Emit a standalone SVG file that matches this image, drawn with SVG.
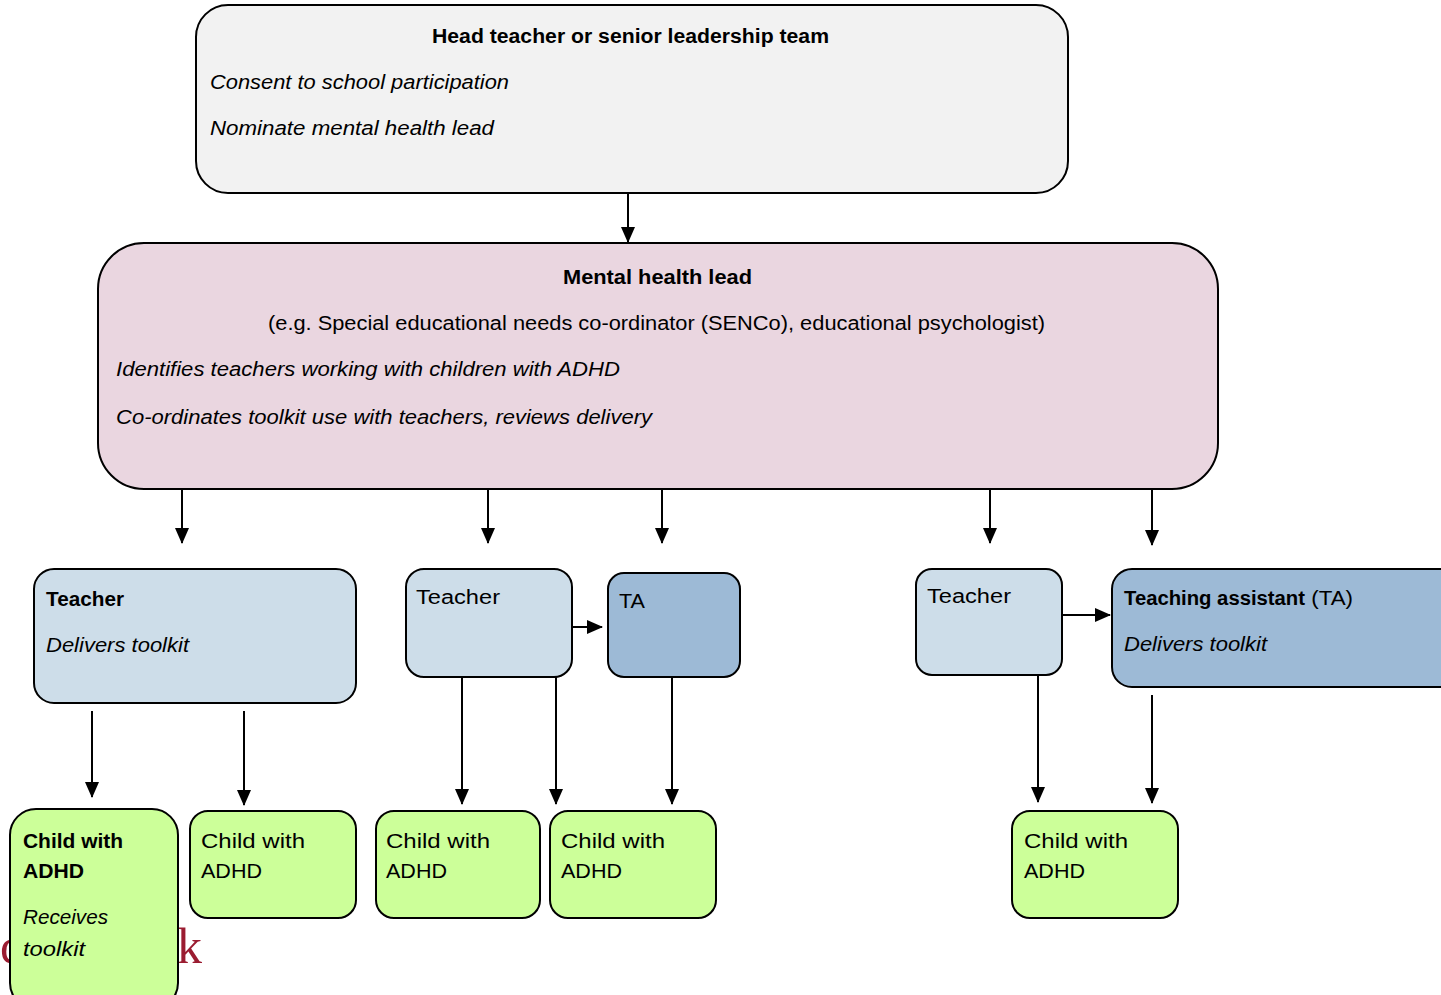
<svg xmlns="http://www.w3.org/2000/svg" width="1441" height="995" viewBox="0 0 1441 995">
<style>
text{font-family:"Liberation Sans",Arial,sans-serif;font-size:20px;fill:#000}
.b{font-weight:bold}
.i{font-style:italic}
.bg{font-family:"Liberation Serif",serif;font-size:50px;fill:#9b1c31}
.box{stroke:#000;stroke-width:2}
.head{fill:#f2f2f2}
.mhl{fill:#ead6e0}
.tch{fill:#cddde9}
.ta{fill:#9dbad6}
.ch{fill:#ccff99}
.con{stroke:#000;stroke-width:2;fill:none;marker-end:url(#ah)}
</style>
<defs>
<marker id="ah" markerUnits="userSpaceOnUse" markerWidth="16" markerHeight="16" refX="15" refY="8" orient="auto">
<path d="M0,1 L16,8 L0,15 Z" fill="#000"/>
</marker>
</defs>
<text class="bg" x="0" y="963">c</text>
<text class="bg" x="177" y="963">k</text>
<g id="connectors">
<line class="con" x1="628" y1="193" x2="628" y2="242"/>
<line class="con" x1="182" y1="489" x2="182" y2="543"/>
<line class="con" x1="488" y1="489" x2="488" y2="543"/>
<line class="con" x1="662" y1="489" x2="662" y2="543"/>
<line class="con" x1="990" y1="489" x2="990" y2="543"/>
<line class="con" x1="1152" y1="489" x2="1152" y2="545"/>
<line class="con" x1="572" y1="627" x2="602" y2="627"/>
<line class="con" x1="1062" y1="615" x2="1110" y2="615"/>
<line class="con" x1="92" y1="711" x2="92" y2="797"/>
<line class="con" x1="244" y1="711" x2="244" y2="805"/>
<line class="con" x1="462" y1="677" x2="462" y2="804"/>
<line class="con" x1="556" y1="677" x2="556" y2="804"/>
<line class="con" x1="672" y1="677" x2="672" y2="804"/>
<line class="con" x1="1038" y1="675" x2="1038" y2="802"/>
<line class="con" x1="1152" y1="695" x2="1152" y2="803"/>
</g>
<g id="head">
<rect class="box head" x="196" y="5" width="872" height="188" rx="32"/>
<text class="b" x="432" y="43" textLength="397" lengthAdjust="spacingAndGlyphs">Head teacher or senior leadership team</text>
<text class="i" x="210" y="89" textLength="299" lengthAdjust="spacingAndGlyphs">Consent to school participation</text>
<text class="i" x="210" y="135" textLength="284" lengthAdjust="spacingAndGlyphs">Nominate mental health lead</text>
</g>
<g id="mhl">
<rect class="box mhl" x="98" y="243" width="1120" height="246" rx="46"/>
<text class="b" x="563" y="284" textLength="189" lengthAdjust="spacingAndGlyphs">Mental health lead</text>
<text x="268" y="330" textLength="777" lengthAdjust="spacingAndGlyphs">(e.g. Special educational needs co-ordinator (SENCo), educational psychologist)</text>
<text class="i" x="116" y="376" textLength="504" lengthAdjust="spacingAndGlyphs">Identifies teachers working with children with ADHD</text>
<text class="i" x="116" y="424" textLength="536" lengthAdjust="spacingAndGlyphs">Co-ordinates toolkit use with teachers, reviews delivery</text>
</g>
<g id="teacher1">
<rect class="box tch" x="34" y="569" width="322" height="134" rx="20"/>
<text class="b" x="46" y="606" textLength="78" lengthAdjust="spacingAndGlyphs">Teacher</text>
<text class="i" x="46" y="652" textLength="143" lengthAdjust="spacingAndGlyphs">Delivers toolkit</text>
</g>
<g id="teacher2">
<rect class="box tch" x="406" y="569" width="166" height="108" rx="18"/>
<text x="416" y="604" textLength="84" lengthAdjust="spacingAndGlyphs">Teacher</text>
</g>
<g id="ta1">
<rect class="box ta" x="608" y="573" width="132" height="104" rx="16"/>
<text x="619" y="608" textLength="26" lengthAdjust="spacingAndGlyphs">TA</text>
</g>
<g id="teacher3">
<rect class="box tch" x="916" y="569" width="146" height="106" rx="16"/>
<text x="927" y="603" textLength="84" lengthAdjust="spacingAndGlyphs">Teacher</text>
</g>
<g id="ta2">
<rect class="box ta" x="1112" y="569" width="350" height="118" rx="20"/>
<text x="1124" y="605"><tspan class="b" textLength="181" lengthAdjust="spacingAndGlyphs">Teaching assistant</tspan><tspan x="1305" textLength="48" lengthAdjust="spacingAndGlyphs"> (TA)</tspan></text>
<text class="i" x="1124" y="651" textLength="143" lengthAdjust="spacingAndGlyphs">Delivers toolkit</text>
</g>
<g id="child1">
<rect class="box ch" x="10" y="809" width="168" height="200" rx="26"/>
<text class="b" x="23" y="848" textLength="100" lengthAdjust="spacingAndGlyphs">Child with</text>
<text class="b" x="23" y="878" textLength="61" lengthAdjust="spacingAndGlyphs">ADHD</text>
<text class="i" x="23" y="924" textLength="85" lengthAdjust="spacingAndGlyphs">Receives</text>
<text class="i" x="23" y="956" textLength="62" lengthAdjust="spacingAndGlyphs">toolkit</text>
</g>
<g id="child2">
<rect class="box ch" x="190" y="811" width="166" height="107" rx="18"/>
<text x="201" y="848" textLength="104" lengthAdjust="spacingAndGlyphs">Child with</text>
<text x="201" y="878" textLength="61" lengthAdjust="spacingAndGlyphs">ADHD</text>
</g>
<g id="child3">
<rect class="box ch" x="376" y="811" width="164" height="107" rx="18"/>
<text x="386" y="848" textLength="104" lengthAdjust="spacingAndGlyphs">Child with</text>
<text x="386" y="878" textLength="61" lengthAdjust="spacingAndGlyphs">ADHD</text>
</g>
<g id="child4">
<rect class="box ch" x="550" y="811" width="166" height="107" rx="18"/>
<text x="561" y="848" textLength="104" lengthAdjust="spacingAndGlyphs">Child with</text>
<text x="561" y="878" textLength="61" lengthAdjust="spacingAndGlyphs">ADHD</text>
</g>
<g id="child5">
<rect class="box ch" x="1012" y="811" width="166" height="107" rx="18"/>
<text x="1024" y="848" textLength="104" lengthAdjust="spacingAndGlyphs">Child with</text>
<text x="1024" y="878" textLength="61" lengthAdjust="spacingAndGlyphs">ADHD</text>
</g>
</svg>
